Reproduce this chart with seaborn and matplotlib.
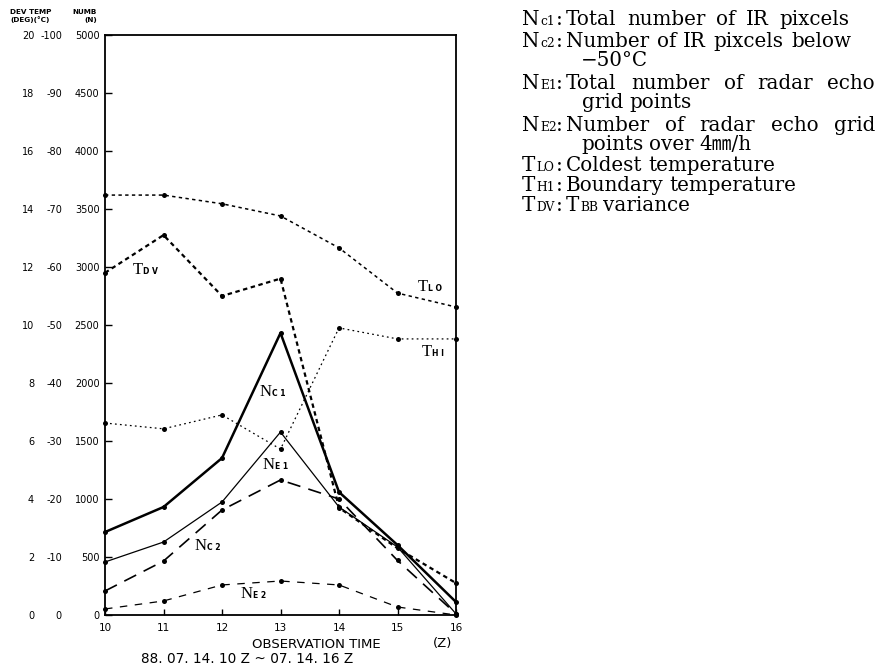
import matplotlib
matplotlib.use("Agg")
import matplotlib.pyplot as plt
import seaborn as sns
from matplotlib.ticker import FixedLocator, FixedFormatter

# ---------------- data ----------------
hours = [10, 11, 12, 13, 14, 15, 16]
x_tick_labels = ["10", "11", "12", "13", "14", "15", "16"]

# numbers (N)
n_c1 = [715, 931, 1353, 2431, 1060, 603, 112]
n_e1 = [457, 629, 974, 1577, 931, 586, 10]
n_c2 = [207, 465, 905, 1164, 1000, 470, 10]
n_e2 = [52, 121, 259, 293, 259, 69, 0]
# temperatures (deg C)
t_lo = [-72.4, -72.4, -70.9, -68.8, -63.3, -55.5, -53.1]
t_hi = [-33.1, -32.1, -34.5, -28.6, -49.5, -47.6, -47.6]
# deviation (DEG)
t_dv = [11.8, 13.1, 11.0, 11.6, 3.7, 2.3, 1.1]

numb_ticks = [0, 500, 1000, 1500, 2000, 2500, 3000, 3500, 4000, 4500, 5000]
numb_labels = ["0", "500", "1000", "1500", "2000", "2500", "3000", "3500", "4000", "4500", "5000"]
temp_ticks = [0, -10, -20, -30, -40, -50, -60, -70, -80, -90, -100]
temp_labels = ["0", "-10", "-20", "-30", "-40", "-50", "-60", "-70", "-80", "-90", "-100"]
dev_ticks = [0, 2, 4, 6, 8, 10, 12, 14, 16, 18, 20]
dev_labels = ["0", "2", "4", "6", "8", "10", "12", "14", "16", "18", "20"]

# ---------------- figure ----------------
sns.set_theme(style="white")
plt.rcParams["font.family"] = ["DejaVu Sans"]
plt.rcParams["axes.unicode_minus"] = False

W, H = 882, 665
fig = plt.figure(figsize=(W / 100, H / 100), dpi=100)
fig.patch.set_facecolor("white")


def fx(px):
    return px / W


def fy(py):
    return 1 - py / H


ax = fig.add_axes([fx(105), fy(615), (456 - 105) / W, (615 - 35) / H])
axT = ax.twinx()
axD = ax.twinx()


def draw(axis, y, ls, lw, ms=3.6):
    sns.lineplot(x=hours, y=y, ax=axis, color="black", linestyle=ls,
                 linewidth=lw, marker="o", markersize=ms, markeredgewidth=0,
                 clip_on=False)


draw(ax, n_c1, "-", 1.8)
draw(ax, n_e1, "-", 0.9)
draw(ax, n_c2, (0, (8, 5)), 1.2)
draw(ax, n_e2, (0, (6, 6)), 0.9)
draw(axT, t_lo, (0, (2.2, 2.2)), 1.1)
draw(axT, t_hi, (0, (1.4, 2.6)), 0.9)
draw(axD, t_dv, (0, (2.0, 1.6)), 1.6)

ax.set_xlim(10, 16)
ax.set_ylim(0, 5000)
axT.set_ylim(0, -100)
axD.set_ylim(0, 20)

for a in (ax, axT, axD):
    a.set_xlabel("")
    a.set_ylabel("")
    a.grid(False)

for s in ax.spines.values():
    s.set_visible(True)
    s.set_color("black")
    s.set_linewidth(1.3)

ax.xaxis.set_major_locator(FixedLocator(hours))
ax.xaxis.set_major_formatter(FixedFormatter(x_tick_labels))
ax.yaxis.set_major_locator(FixedLocator(numb_ticks))
ax.yaxis.set_major_formatter(FixedFormatter(numb_labels))
ax.tick_params(axis="y", direction="in", length=5, width=1, pad=4,
               labelsize=7, colors="black", left=True)
ax.tick_params(axis="x", direction="in", length=4, width=1, pad=6,
               labelsize=7.5, colors="black", bottom=True)

for a, tks, lbs, pad in ((axT, temp_ticks, temp_labels, 31),
                         (axD, dev_ticks, dev_labels, 51)):
    for s in a.spines.values():
        s.set_visible(False)
    a.yaxis.tick_left()
    a.yaxis.set_major_locator(FixedLocator(tks))
    a.yaxis.set_major_formatter(FixedFormatter(lbs))
    a.tick_params(axis="y", length=0, pad=pad, labelsize=7, colors="black",
                  labelleft=True, labelright=False)

# header of the y columns
hdr = dict(fontsize=5.2, fontweight="bold", color="black", va="center")
fig.text(fx(10), fy(12), "DEV TEMP", ha="left", **hdr)
fig.text(fx(97), fy(12), "NUMB", ha="right", **hdr)
fig.text(fx(10), fy(20), "(DEG)(°C)", ha="left", **hdr)
fig.text(fx(97), fy(20), "(N)", ha="right", **hdr)

# x-axis titles
fig.text(fx(316), fy(644), "OBSERVATION TIME", ha="center", va="center",
         fontsize=9.5, color="black")
fig.text(fx(443), fy(644), "(Z)", ha="center", va="center", fontsize=9.5,
         color="black")
fig.text(fx(247), fy(659), "88. 07. 14. 10 Z ~ 07. 14. 16 Z", ha="center",
         va="center", fontsize=9.8, color="black")

# inline curve labels
serif = ["Liberation Serif", "DejaVu Serif"]


def curve_label(px, py, main, sub, dx):
    fig.text(fx(px), fy(py), main, ha="left", va="center", fontsize=12,
             family=serif, color="black")
    fig.text(fx(px + dx), fy(py + 1.5), sub, ha="left", va="center",
             fontsize=5.5, fontweight="bold", color="black")


curve_label(133, 270, "T", "D V", 10)
curve_label(418, 287, "T", "L O", 10)
curve_label(422, 352, "T", "H I", 10)
curve_label(260, 392, "N", "C 1", 12)
curve_label(263, 465, "N", "E 1", 12)
curve_label(195, 546, "N", "C 2", 12)
curve_label(241, 594, "N", "E 2", 12)

# right-hand explanation block
font_r = ["DejaVu Serif", "Noto Sans CJK JP"]
BIG = 14.3
SMALL = 8.8
renderer = fig.canvas.get_renderer()


def words_at(py, x0, words, x_end=None, sizes=None, gaps=None):
    if sizes is None:
        sizes = [BIG] * len(words)
    texts = [fig.text(fx(x0), fy(py), w, ha="left", va="baseline",
                      fontsize=s, family=font_r, color="black")
             for w, s in zip(words, sizes)]
    widths = [t.get_window_extent(renderer).width for t in texts]
    if x_end is not None and len(words) > 1:
        gap = (x_end - x0 - sum(widths)) / (len(words) - 1)
    else:
        gap = 0.30 * BIG * 100 / 72
    if gaps is None:
        gaps = [gap] * len(words)
    x = x0
    for t, w, g in zip(texts, widths, gaps):
        t.set_x(fx(x))
        x += w + g


def head(py, main, sub):
    words_at(py, 522, [main, sub], sizes=[BIG, SMALL], gaps=[1, 0])
    fig.text(fx(556), fy(py), ":", ha="left", va="baseline", fontsize=BIG,
             family=font_r, color="black")


head(25, "N", "c1")
words_at(25, 566, ["Total", "number", "of", "IR", "pixcels"], 849)
head(47, "N", "c2")
words_at(47, 566, ["Number", "of", "IR", "pixcels", "below"], 851)
words_at(66, 581, ["\u221250°C"])
head(89, "N", "E1")
words_at(89, 566, ["Total", "number", "of", "radar", "echo"], 875)
words_at(108, 582, ["grid", "points"])
head(131, "N", "E2")
words_at(131, 566, ["Number", "of", "radar", "echo", "grid"], 875)
words_at(150, 581, ["points", "over", "4\u339c/h"])
head(171, "T", "LO")
words_at(171, 566, ["Coldest", "temperature"])
head(191, "T", "H1")
words_at(191, 566, ["Boundary", "temperature"])
head(211, "T", "DV")
words_at(211, 566, ["T", "BB", "variance"], sizes=[BIG, SMALL, BIG],
         gaps=[1, 5, 0])

fig.savefig("out.png", dpi=100)
